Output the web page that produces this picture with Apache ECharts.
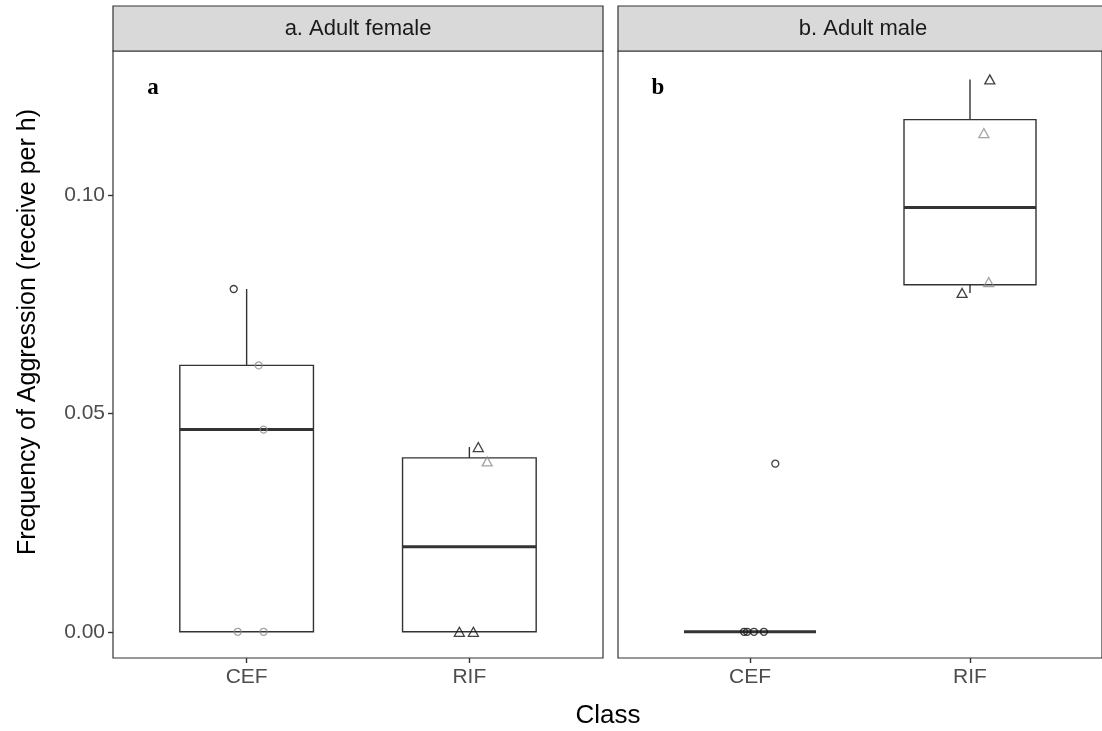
<!DOCTYPE html>
<html>
<head>
<meta charset="utf-8">
<script src="https://cdn.jsdelivr.net/npm/echarts@6/dist/echarts.min.js"></script>
<style>
  html, body { margin: 0; padding: 0; background: #fff; }
  #chart { width: 1102px; height: 731px; }
</style>
</head>
<body>
<div id="chart"></div>
<script>
// Facet panels, classes and axis ticks
const panelTitles = ['a. Adult female', 'b. Adult male'];
const panelTags = ['a', 'b'];
const classes = ['CEF', 'RIF'];
const yTicks = [0, 0.05, 0.10];

// Aggression received per hour, one array per panel and class
const femaleCEF = [0, 0, 0.0463, 0.0610, 0.0785];
const femaleRIF = [0, 0, 0.0390, 0.0423];
const maleCEF = [0, 0, 0, 0, 0.0385];
const maleRIF = [0.0776, 0.0801, 0.1142, 0.1265];

// Horizontal jitter of each point (in class units)
const femaleCEFJitter = [-0.04, 0.076, 0.076, 0.054, -0.058];
const femaleRIFJitter = [-0.045, 0.018, 0.08, 0.04];
const maleCEFJitter = [-0.027, -0.013, 0.018, 0.063, 0.115];
const maleRIFJitter = [-0.036, 0.085, 0.063, 0.09];

// Point shade group (0 = dark, 1 = light)
const femaleCEFShade = [1, 1, 1, 1, 0];
const femaleRIFShade = [0, 0, 1, 0];
const maleCEFShade = [0, 0, 0, 0, 0];
const maleRIFShade = [0, 1, 1, 0];

const shadeColors = ['#111111', '#8c8c8c'];
const FONT = 'Liberation Sans, Arial, sans-serif';

// Quantile (linear interpolation, R type 7)
function quantile(sorted, p) {
  const h = (sorted.length - 1) * p;
  const lo = Math.floor(h), hi = Math.ceil(h);
  return sorted[lo] + (h - lo) * (sorted[hi] - sorted[lo]);
}
function boxStats(values, xPos) {
  const s = values.slice().sort((a, b) => a - b);
  const q1 = quantile(s, 0.25), med = quantile(s, 0.5), q3 = quantile(s, 0.75);
  const iqr = q3 - q1;
  const inside = s.filter(v => v >= q1 - 1.5 * iqr && v <= q3 + 1.5 * iqr);
  return [xPos, Math.min(...inside), q1, med, q3, Math.max(...inside)];
}

const panels = [
  { groups: [femaleCEF, femaleRIF], jitter: [femaleCEFJitter, femaleRIFJitter], shade: [femaleCEFShade, femaleRIFShade] },
  { groups: [maleCEF, maleRIF], jitter: [maleCEFJitter, maleRIFJitter], shade: [maleCEFShade, maleRIFShade] }
];
const symbols = ['circle', 'triangle'];
const symbolSizes = [7, [10, 9]];

const gridLeft = [113, 618];
const gridTop = 51, gridW = 490, gridH = 607;

const grids = gridLeft.map(l => ({
  left: l, top: gridTop, width: gridW, height: gridH,
  show: true, borderColor: '#333333', borderWidth: 1.2, backgroundColor: '#ffffff'
}));

const xAxes = gridLeft.map((l, i) => ({
  type: 'value', gridIndex: i, min: 0.4, max: 2.6,
  splitLine: { show: false },
  axisLine: { show: false, onZero: false },
  axisTick: { show: true, customValues: [1, 2], length: 5, lineStyle: { color: '#333333', width: 1.4 } },
  axisLabel: {
    customValues: [1, 2], margin: 9,
    formatter: v => classes[Math.round(v) - 1],
    color: '#4d4d4d', fontSize: 21, fontFamily: FONT
  }
}));

const yAxes = gridLeft.map((l, i) => ({
  type: 'value', gridIndex: i, min: -0.006, max: 0.133,
  splitLine: { show: false },
  axisLine: { show: false, onZero: false },
  axisTick: { show: i === 0, customValues: yTicks, length: 5, lineStyle: { color: '#333333', width: 1.4 } },
  axisLabel: {
    show: i === 0, customValues: yTicks, margin: 8,
    formatter: v => v.toFixed(2),
    color: '#4d4d4d', fontSize: 21, fontFamily: FONT
  }
}));

const series = [];
panels.forEach((p, pi) => {
  // Box and whiskers
  series.push({
    type: 'custom', xAxisIndex: pi, yAxisIndex: pi, z: 2,
    data: p.groups.map((vals, ci) => boxStats(vals, ci + 1)),
    renderItem: (params, api) => {
      const x = api.value(0), lo = api.value(1), q1 = api.value(2),
            med = api.value(3), q3 = api.value(4), hi = api.value(5);
      const half = 0.3;
      const tl = api.coord([x - half, q3]);
      const br = api.coord([x + half, q1]);
      const mL = api.coord([x - half, med]);
      const mR = api.coord([x + half, med]);
      const wHi = api.coord([x, hi]);
      const wQ3 = api.coord([x, q3]);
      const wQ1 = api.coord([x, q1]);
      const wLo = api.coord([x, lo]);
      const line = { stroke: '#333333', lineWidth: 1.4, fill: null };
      return {
        type: 'group',
        children: [
          { type: 'line', shape: { x1: wHi[0], y1: wHi[1], x2: wQ3[0], y2: wQ3[1] }, style: line },
          { type: 'line', shape: { x1: wQ1[0], y1: wQ1[1], x2: wLo[0], y2: wLo[1] }, style: line },
          { type: 'rect', shape: { x: tl[0], y: tl[1], width: br[0] - tl[0], height: br[1] - tl[1] },
            style: { stroke: '#333333', lineWidth: 1.4, fill: '#ffffff' } },
          { type: 'line', shape: { x1: mL[0], y1: mL[1], x2: mR[0], y2: mR[1] },
            style: { stroke: '#333333', lineWidth: 3, lineCap: 'butt' } }
        ]
      };
    }
  });
  // Jittered observations
  p.groups.forEach((vals, ci) => {
    series.push({
      type: 'scatter', xAxisIndex: pi, yAxisIndex: pi, z: 5,
      symbol: symbols[ci], symbolSize: symbolSizes[ci],
      data: vals.map((v, k) => ({
        value: [ci + 1 + p.jitter[ci][k], v],
        itemStyle: { color: 'rgba(0,0,0,0)', borderColor: shadeColors[p.shade[ci][k]], borderWidth: 1.3 }
      })),
      emphasis: { disabled: true }
    });
  });
});

// Facet strips, panel tags and axis titles
const graphics = [];
gridLeft.forEach((l, i) => {
  graphics.push({
    type: 'rect', shape: { x: l, y: 6, width: gridW, height: gridTop - 6 },
    style: { fill: '#d9d9d9', stroke: '#333333', lineWidth: 1.2 }, z: 10
  });
  graphics.push({
    type: 'text', x: l + gridW / 2, y: 29, z: 11,
    style: { text: panelTitles[i], fill: '#1a1a1a', font: '22px ' + FONT, align: 'center', verticalAlign: 'middle' }
  });
  graphics.push({
    type: 'text', x: l + 40, y: 88, z: 11,
    style: { text: panelTags[i], fill: '#000000', font: 'bold 23px "Liberation Serif", "DejaVu Serif", serif', align: 'center', verticalAlign: 'middle' }
  });
});
graphics.push({
  type: 'text', x: 608, y: 716, z: 11,
  style: { text: 'Class', fill: '#000000', font: '26px ' + FONT, align: 'center', verticalAlign: 'middle' }
});
graphics.push({
  type: 'text', x: 28, y: 332, rotation: Math.PI / 2, z: 11,
  style: { text: 'Frequency of Aggression (receive per h)', fill: '#000000', font: '25px ' + FONT, align: 'center', verticalAlign: 'middle' }
});

const chart = echarts.init(document.getElementById('chart'), null, { renderer: 'canvas' });
chart.setOption({
  animation: false,
  backgroundColor: '#ffffff',
  grid: grids,
  xAxis: xAxes,
  yAxis: yAxes,
  series: series,
  graphic: graphics
});
</script>
</body>
</html>
